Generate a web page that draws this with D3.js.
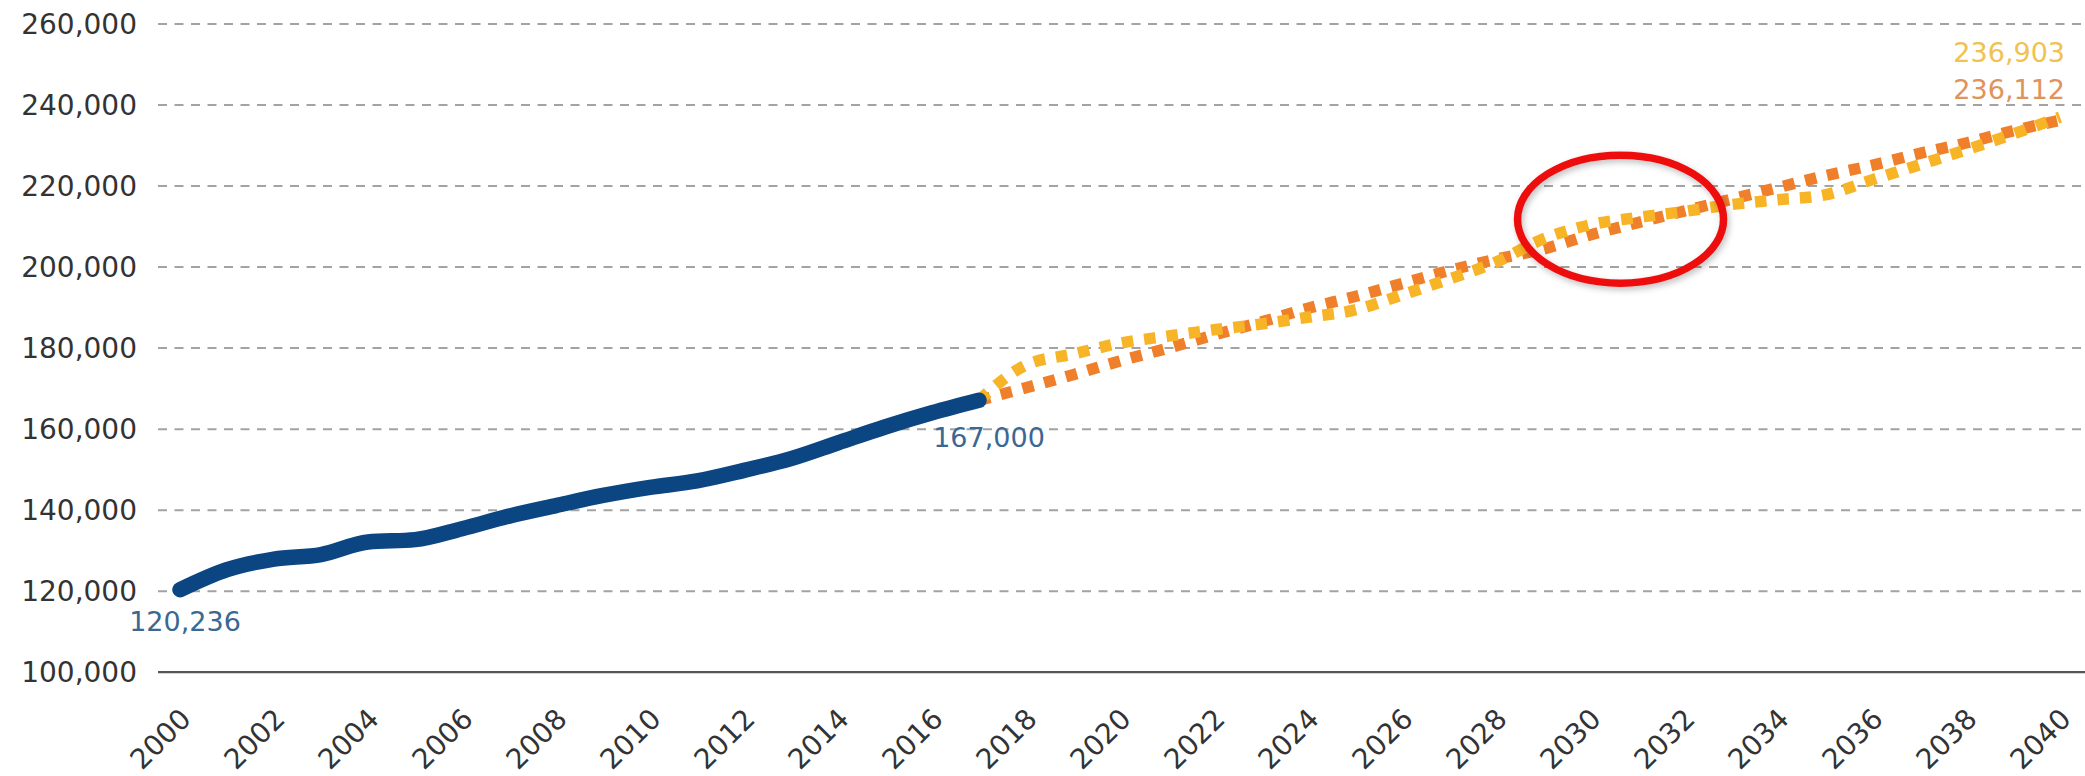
<!DOCTYPE html>
<html>
<head>
<meta charset="utf-8">
<script src="https://cdn.jsdelivr.net/npm/d3@7/dist/d3.min.js"></script>
<style>
  html, body { margin: 0; padding: 0; background: #fff; }
  svg { display: block; }
</style>
</head>
<body>
<svg id="chart" width="2085" height="776"></svg>
<script>
// ---- Data ----
const histYears  = [2000,2001,2002,2003,2004,2005,2006,2007,2008,2009,2010,2011,2012,2013,2014,2015,2016,2017];
const histValues = [120236,125200,127800,128900,132000,132600,135300,138400,141000,143500,145500,147100,149700,152600,156500,160400,163900,167000];

const projYears    = [2017,2018,2019,2020,2021,2022,2023,2024,2025,2026,2027,2028,2029,2030,2031,2032,2033,2034,2035,2036,2037,2038,2039,2040];
const yellowValues = [167000,175700,178400,181100,182800,184400,185800,187500,189300,193000,196900,201100,206800,210300,212100,213600,215300,216500,217700,221400,225100,228800,232700,236903];
const orangeValues = [167000,170100,173300,176700,179800,183100,186300,189700,192600,195800,199000,201800,204300,207800,210800,213700,216600,219500,222400,225000,227900,230500,233500,236112];

const yTicks = [100000,120000,140000,160000,180000,200000,220000,240000,260000];
const xTicks = [2000,2002,2004,2006,2008,2010,2012,2014,2016,2018,2020,2022,2024,2026,2028,2030,2032,2034,2036,2038,2040];

const labelStart  = "120,236";
const labelHist   = "167,000";
const labelYellow = "236,903";
const labelOrange = "236,112";

// ---- Layout ----
const W = 2085, H = 776;
const gridLeft = 158, gridRight = 2085;
const x = d3.scaleLinear().domain([2000, 2040]).range([180, 2060]);
const y = d3.scaleLinear().domain([100000, 260000]).range([671.7, 23.5]);

const svg = d3.select("#chart");
const font = "'DejaVu Sans', sans-serif";

const defs = svg.append("defs");
const f = defs.append("filter").attr("id", "shadow").attr("x", "-20%").attr("y", "-20%").attr("width", "140%").attr("height", "140%");
f.append("feDropShadow").attr("dx", 2).attr("dy", 3).attr("stdDeviation", 3).attr("flood-color", "#000").attr("flood-opacity", 0.25);

// Y axis with gridlines
const yAxis = d3.axisLeft(y)
  .tickValues(yTicks)
  .tickFormat(d3.format(","))
  .tickSize(-(gridRight - gridLeft))
  .tickPadding(21);

const gy = svg.append("g").attr("transform", `translate(${gridLeft},0)`).call(yAxis);
gy.select(".domain").remove();
gy.selectAll(".tick line")
  .attr("stroke", d => d === 100000 ? "#555" : "#a3a3a3")
  .attr("stroke-width", d => d === 100000 ? 2.2 : 2)
  .attr("stroke-dasharray", d => d === 100000 ? null : "9,7.5");
gy.selectAll(".tick text")
  .attr("font-family", font)
  .attr("font-size", 28)
  .attr("fill", "#333")
  .attr("dy", "0.36em");

// X axis labels
const xAxis = d3.axisBottom(x).tickValues(xTicks).tickFormat(d3.format("d")).tickSize(0).tickPadding(0);
const gx = svg.append("g").attr("transform", `translate(0,${y(100000)})`).call(xAxis);
gx.select(".domain").remove();
gx.selectAll(".tick text")
  .attr("font-family", font)
  .attr("font-size", 28)
  .attr("fill", "#333")
  .attr("text-anchor", "end")
  .attr("y", 0)
  .attr("dy", 0)
  .attr("transform", "translate(12,49) rotate(-45)");

// Lines
const line = d3.line().x(d => x(d[0])).y(d => y(d[1])).curve(d3.curveMonotoneX);

svg.append("path")
  .datum(d3.zip(projYears, orangeValues))
  .attr("d", line)
  .attr("fill", "none")
  .attr("stroke", "#ef7f2a")
  .attr("stroke-width", 11.5)
  .attr("stroke-dasharray", "11.5,11");

svg.append("path")
  .datum(d3.zip(projYears, yellowValues))
  .attr("d", line)
  .attr("fill", "none")
  .attr("stroke", "#f7b426")
  .attr("stroke-width", 11.5)
  .attr("stroke-dasharray", "11.5,11");

svg.append("path")
  .datum(d3.zip(histYears, histValues))
  .attr("d", line)
  .attr("fill", "none")
  .attr("stroke", "#0b4683")
  .attr("stroke-width", 15.5)
  .attr("stroke-linecap", "round")
  .attr("stroke-linejoin", "round");

// Value labels
svg.append("text")
  .attr("x", x(2000) + 5).attr("y", y(histValues[0]) + 41)
  .attr("text-anchor", "middle")
  .attr("font-family", font).attr("font-size", 27).attr("fill", "#3a6893")
  .text(labelStart);

svg.append("text")
  .attr("x", x(2017) + 10).attr("y", y(histValues[histValues.length - 1]) + 47)
  .attr("text-anchor", "middle")
  .attr("font-family", font).attr("font-size", 27).attr("fill", "#3a6893")
  .text(labelHist);

svg.append("text")
  .attr("x", x(2040) + 5).attr("y", y(yellowValues[yellowValues.length - 1]) - 55)
  .attr("text-anchor", "end")
  .attr("font-family", font).attr("font-size", 27).attr("fill", "#f0c250")
  .text(labelYellow);

svg.append("text")
  .attr("x", x(2040) + 5).attr("y", y(orangeValues[orangeValues.length - 1]) - 21)
  .attr("text-anchor", "end")
  .attr("font-family", font).attr("font-size", 27).attr("fill", "#e0935a")
  .text(labelOrange);

// Red highlight ellipse
svg.append("ellipse")
  .attr("cx", x(2030.65)).attr("cy", y(211700))
  .attr("rx", 103).attr("ry", 64)
  .attr("fill", "none")
  .attr("stroke", "#ee1111")
  .attr("stroke-width", 7.5)
  .attr("filter", "url(#shadow)");
</script>
</body>
</html>
